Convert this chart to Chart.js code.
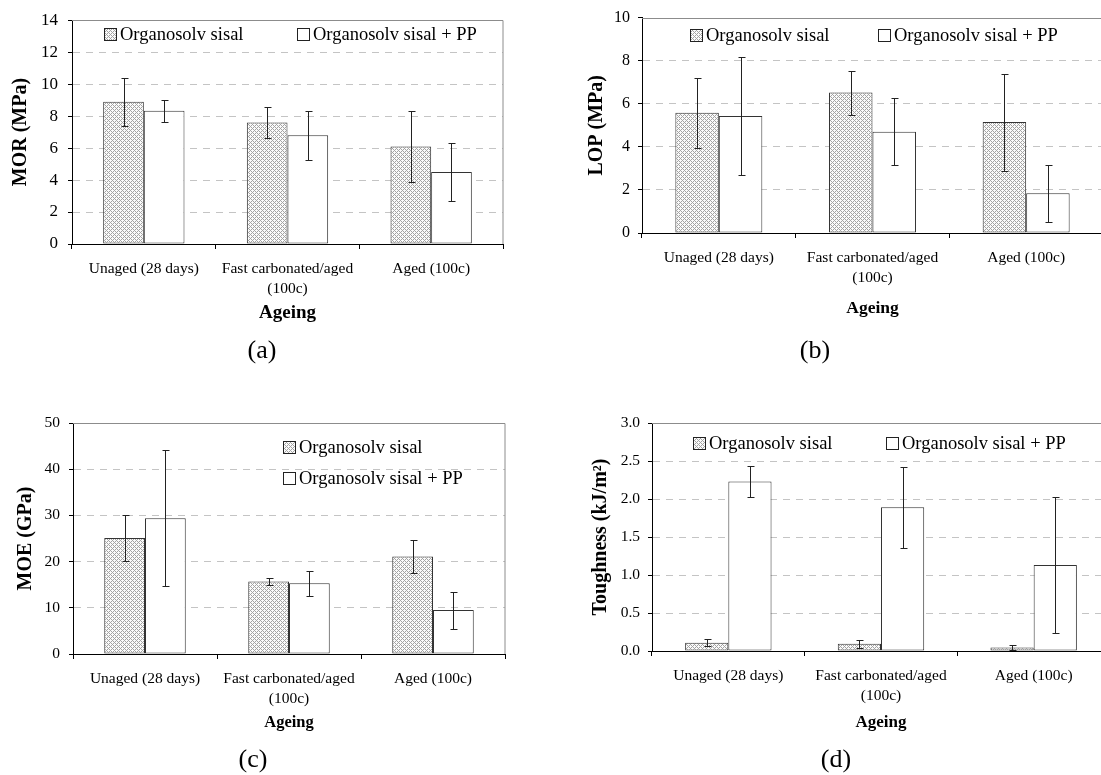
<!DOCTYPE html>
<html>
<head>
<meta charset="utf-8">
<script src="https://cdn.jsdelivr.net/npm/chart.js@4.4.0/dist/chart.umd.min.js"></script>
<style>
html, body { margin: 0; padding: 0; background: #fff; overflow: hidden; }
body { width: 1101px; height: 775px; position: relative; font-family: "Liberation Serif", "Times New Roman", serif; }
.panel { position: absolute; }
.tag { position: absolute; font-size: 26px; transform: translate(-50%, -50%); white-space: nowrap; color: #000; }
</style>
</head>
<body>
<div class="panel" style="left:0;top:0;width:550px;height:340px"><canvas id="morChart"></canvas></div>
<div class="panel" style="left:550px;top:0;width:560px;height:340px"><canvas id="lopChart"></canvas></div>
<div class="panel" style="left:0;top:380px;width:550px;height:395px"><canvas id="moeChart"></canvas></div>
<div class="panel" style="left:550px;top:380px;width:565px;height:395px"><canvas id="toughChart"></canvas></div>
<div class="tag" style="left:262px;top:350px">(a)</div>
<div class="tag" style="left:815px;top:350px">(b)</div>
<div class="tag" style="left:253px;top:759px">(c)</div>
<div class="tag" style="left:836px;top:759px">(d)</div>

<script>
const categories = ['Unaged (28 days)', ['Fast carbonated/aged', '(100c)'], 'Aged (100c)'];
const seriesNames = ['Organosolv sisal', 'Organosolv sisal + PP'];
const xTitle = 'Ageing';

const morSisal = [8.9, 7.6, 6.1];
const morSisalErr = [1.5, 1.0, 2.2];
const morPP = [8.33, 6.8, 4.5];
const morPPErr = [0.68, 1.55, 1.8];
const morTicks = [0, 2, 4, 6, 8, 10, 12, 14];

const lopSisal = [5.58, 6.52, 5.15];
const lopSisalErr = [1.62, 1.02, 2.25];
const lopPP = [5.43, 4.7, 1.85];
const lopPPErr = [2.76, 1.56, 1.33];
const lopTicks = [0, 2, 4, 6, 8, 10];

const moeSisal = [25.1, 15.7, 21.1];
const moeSisalErr = [4.9, 0.7, 3.6];
const moePP = [29.4, 15.3, 9.5];
const moePPErr = [14.7, 2.75, 4.0];
const moeTicks = [0, 10, 20, 30, 40, 50];

const toughSisal = [0.11, 0.095, 0.045];
const toughSisalErr = [0.045, 0.05, 0.03];
const toughPP = [2.23, 1.89, 1.13];
const toughPPErr = [0.205, 0.535, 0.89];
const toughTicks = [0, 0.5, 1.0, 1.5, 2.0, 2.5, 3.0];

Chart.defaults.font.family = "'Liberation Serif', 'Times New Roman', serif";
Chart.defaults.color = '#000';

function makeHatch() {
    const c = document.createElement('canvas');
    c.width = 4; c.height = 4;
    const g = c.getContext('2d');
    g.fillStyle = '#fbfbfb';
    g.fillRect(0, 0, 4, 4);
    g.fillStyle = '#a4a4a4';
    for (let y = 0; y < 4; y++) {
        for (let x = 0; x < 4; x++) {
            if ((x + y) % 4 === 0 || (x - y + 4) % 4 === 0) g.fillRect(x, y, 1, 1);
        }
    }
    return g.createPattern(c, 'repeat');
}
const hatch = makeHatch();

// error bars, drawn through the y scale
const errorBars = {
    id: 'errorBars',
    afterDatasetsDraw(chart) {
        const ctx = chart.ctx;
        const y = chart.scales.y;
        ctx.save();
        ctx.strokeStyle = '#222';
        ctx.lineWidth = 1;
        chart.data.datasets.forEach((ds, i) => {
            chart.getDatasetMeta(i).data.forEach((bar, j) => {
                const v = ds.data[j], e = ds.errors[j];
                const x = Math.round(bar.x) + 0.5;
                const yt = Math.round(y.getPixelForValue(v + e)) + 0.5;
                const yb = Math.round(y.getPixelForValue(v - e)) + 0.5;
                ctx.beginPath();
                ctx.moveTo(x, yt); ctx.lineTo(x, yb);
                ctx.moveTo(x - 3, yt); ctx.lineTo(x + 4, yt);
                ctx.moveTo(x - 3, yb); ctx.lineTo(x + 4, yb);
                ctx.stroke();
            });
        });
        ctx.restore();
    }
};

// grey frame on top (and right) of the plot area
const frame = {
    id: 'frame',
    afterDraw(chart, args, opts) {
        const a = chart.chartArea, ctx = chart.ctx;
        ctx.save();
        ctx.strokeStyle = '#8c8c8c';
        ctx.lineWidth = 1;
        ctx.beginPath();
        ctx.moveTo(a.left, Math.round(a.top) + 0.5);
        ctx.lineTo(a.right, Math.round(a.top) + 0.5);
        if (opts.right) {
            ctx.lineTo(a.right, a.bottom);
        }
        ctx.stroke();
        ctx.restore();
    }
};

// legend placed inside the plot area
const innerLegend = {
    id: 'innerLegend',
    afterDraw(chart, args, opts) {
        const ctx = chart.ctx;
        ctx.save();
        ctx.font = '18.5px "Liberation Serif", "Times New Roman", serif';
        ctx.textBaseline = 'middle';
        chart.data.datasets.forEach((ds, i) => {
            const p = opts.items[i];
            ctx.fillStyle = ds.backgroundColor;
            ctx.fillRect(p.x, p.y - 6, 12, 12);
            ctx.strokeStyle = '#222';
            ctx.strokeRect(p.x + 0.5, p.y - 5.5, 12, 12);
            ctx.fillStyle = '#000';
            ctx.fillText(ds.label, p.x + 16, p.y + 1);
        });
        ctx.restore();
    }
};

function makePanel(id, p) {
    const max = p.ticks[p.ticks.length - 1];
    new Chart(document.getElementById(id), {
        type: 'bar',
        data: {
            labels: categories,
            datasets: [{
                label: seriesNames[0],
                data: p.sisal,
                errors: p.sisalErr,
                backgroundColor: hatch,
                borderColor: '#333',
                borderWidth: 1,
                borderSkipped: false
            }, {
                label: seriesNames[1],
                data: p.pp,
                errors: p.ppErr,
                backgroundColor: '#fff',
                borderColor: '#333',
                borderWidth: 1,
                borderSkipped: false
            }]
        },
        options: {
            animation: false,
            responsive: true,
            maintainAspectRatio: false,
            layout: { padding: { top: p.top, right: p.right, left: 0, bottom: 0 } },
            datasets: { bar: { categoryPercentage: 0.566, barPercentage: 1.0 } },
            plugins: {
                legend: { display: false },
                tooltip: { enabled: false },
                frame: { right: p.frameRight },
                innerLegend: { items: p.legend }
            },
            scales: {
                x: {
                    afterFit: s => { s.height = p.xHeight; },
                    grid: { drawOnChartArea: false, drawTicks: true, tickLength: 5, color: '#000', tickColor: '#000' },
                    border: { color: '#000' },
                    ticks: { font: { size: 15.5, lineHeight: 1.35 }, padding: 9, maxRotation: 0, autoSkip: false },
                    title: { display: true, text: xTitle, font: { size: p.xTitleSize, weight: 'bold' }, padding: { top: 0, bottom: p.xTitlePad } }
                },
                y: {
                    min: p.ticks[0],
                    max: max,
                    afterFit: s => { s.width = p.yWidth; },
                    afterBuildTicks: s => { s.ticks = p.ticks.map(v => ({ value: v })); },
                    grid: {
                        color: c => (c.tick && (c.tick.value === 0 || c.tick.value === max)) ? 'rgba(0,0,0,0)' : '#c4c4c4',
                        tickColor: '#000',
                        tickLength: 4
                    },
                    border: { color: '#000', dash: [7, 6] },
                    ticks: {
                        font: { size: p.yTickSize },
                        padding: p.yTickPad,
                        callback: v => p.decimals ? Number(v).toFixed(p.decimals) : v
                    },
                    title: { display: true, text: p.yTitle, font: { size: 20, weight: 'bold' }, padding: { top: p.yTitlePad, bottom: 0 } }
                }
            }
        },
        plugins: [errorBars, frame, innerLegend]
    });
}

makePanel('morChart', {
    sisal: morSisal, sisalErr: morSisalErr, pp: morPP, ppErr: morPPErr, ticks: morTicks,
    yTitle: 'MOR (MPa)', top: 16, right: 47, yWidth: 72, xHeight: 96,
    yTickSize: 17, yTickPad: 10, yTitlePad: 9, xTitleSize: 19, xTitlePad: 16, frameRight: true,
    legend: [{ x: 104, y: 34 }, { x: 297, y: 34 }]
});

makePanel('lopChart', {
    sisal: lopSisal, sisalErr: lopSisalErr, pp: lopPP, ppErr: lopPPErr, ticks: lopTicks,
    yTitle: 'LOP (MPa)', top: 16, right: 7, yWidth: 92, xHeight: 107,
    yTickSize: 16, yTickPad: 8, yTitlePad: 35, xTitleSize: 17.5, xTitlePad: 21, frameRight: false,
    legend: [{ x: 140, y: 35 }, { x: 328, y: 35 }]
});

makePanel('moeChart', {
    sisal: moeSisal, sisalErr: moeSisalErr, pp: moePP, ppErr: moePPErr, ticks: moeTicks,
    yTitle: 'MOE (GPa)', top: 43, right: 45, yWidth: 73, xHeight: 121,
    yTickSize: 15.5, yTickPad: 9, yTitlePad: 14, xTitleSize: 16.5, xTitlePad: 42, frameRight: true,
    legend: [{ x: 283, y: 67 }, { x: 283, y: 98 }]
});

makePanel('toughChart', {
    sisal: toughSisal, sisalErr: toughSisalErr, pp: toughPP, ppErr: toughPPErr, ticks: toughTicks,
    yTitle: 'Toughness (kJ/m²)', top: 43, right: 5, yWidth: 102, xHeight: 124, decimals: 1,
    yTickSize: 15.5, yTickPad: 8, yTitlePad: 39, xTitleSize: 17, xTitlePad: 42, frameRight: false,
    legend: [{ x: 143, y: 63 }, { x: 336, y: 63 }]
});
</script>
</body>
</html>
